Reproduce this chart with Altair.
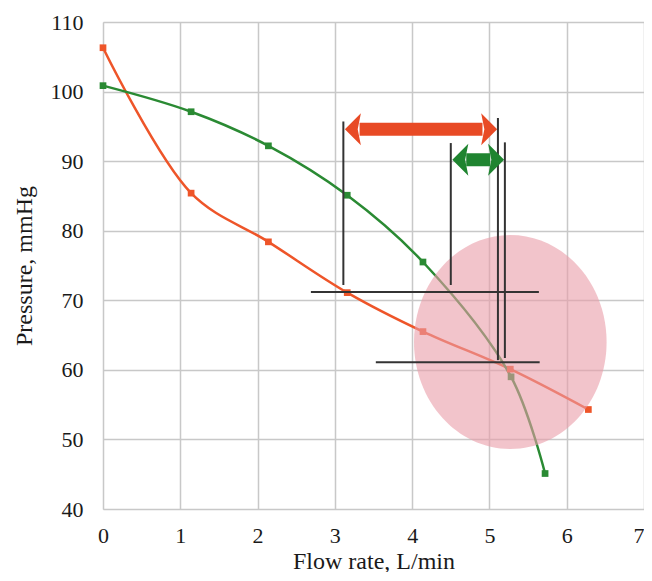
import altair as alt
import pandas as pd

# ---- data ----
flow_orange = [0, 1.14, 2.14, 3.16, 4.14, 5.27, 6.28]
press_orange = [106.3, 85.4, 78.4, 71.1, 65.5, 60.1, 54.3]
flow_green = [0, 1.14, 2.14, 3.16, 4.14, 5.28, 5.72]
press_green = [100.85, 97.1, 92.2, 85.1, 75.5, 59.0, 45.1]

x_ticks = [0, 1, 2, 3, 4, 5, 6, 7]
y_ticks = [40, 50, 60, 70, 80, 90, 100, 110]

# black guide segments
seg_x = [2.69, 3.53, 3.11, 4.50, 5.11, 5.20]
seg_x2 = [5.64, 5.65, 3.11, 4.50, 5.11, 5.20]
seg_y = [71.2, 61.1, 72.2, 72.2, 61.4, 61.7]
seg_y2 = [71.2, 61.1, 95.7, 92.6, 96.2, 92.7]

# ellipse centre
ell_x = [5.27]
ell_y = [64.0]

# double arrows: tips, shaft ends, level
arrow_names = ["orange", "green"]
arrow_left = [3.13, 4.52]
arrow_right = [5.10, 5.19]
shaft_left = [3.32, 4.70]
shaft_right = [4.91, 5.01]
arrow_y = [94.6, 90.2]

ORANGE = "#EE5529"
GREEN = "#2A8A33"
ORANGE_ARROW = "#E84A25"
GREEN_ARROW = "#1F8430"

FONT = "Liberation Serif"

df = pd.DataFrame({
    "flow": flow_orange + flow_green,
    "pressure": press_orange + press_green,
    "series": ["orange"] * len(flow_orange) + ["green"] * len(flow_green),
})
segs = pd.DataFrame({"x": seg_x, "x2": seg_x2, "y": seg_y, "y2": seg_y2})
ell = pd.DataFrame({"x": ell_x, "y": ell_y})
arr = pd.DataFrame({"name": arrow_names, "xl": arrow_left, "xr": arrow_right,
                    "sl": shaft_left, "sr": shaft_right, "y": arrow_y})

xscale = alt.Scale(domain=[0, 7], nice=False)
yscale = alt.Scale(domain=[40, 110], nice=False)
xaxis = alt.Axis(values=x_ticks, format="d", title="Flow rate, L/min", labelFontSize=22, titleFontSize=24,
                 labelPadding=16, titlePadding=3, ticks=False, domain=False, labelFlush=False,
                 labelAlign=alt.ExprRef(expr="datum.value == 7 ? 'right' : 'center'"),
                 gridColor="#c8c8c8", gridWidth=1.5, labelFont=FONT, titleFont=FONT,
                 labelColor="#1a1a1a", titleColor="#1a1a1a", titleFontWeight="normal")
yaxis = alt.Axis(values=y_ticks, format="d", title="Pressure, mmHg", labelFontSize=22, titleFontSize=24,
                 labelPadding=20, titlePadding=14, ticks=False, domain=False, labelFlush=False,
                 gridColor="#c8c8c8", gridWidth=1.5, labelFont=FONT, titleFont=FONT,
                 labelColor="#1a1a1a", titleColor="#1a1a1a", titleFontWeight="normal")

color_scale = alt.Scale(domain=["orange", "green"], range=[ORANGE, GREEN])

base = alt.Chart(df).encode(
    x=alt.X("flow:Q", scale=xscale, axis=xaxis),
    y=alt.Y("pressure:Q", scale=yscale, axis=yaxis),
    color=alt.Color("series:N", scale=color_scale, legend=None),
    detail="series:N",
)
lines = base.mark_line(interpolate="catmull-rom", strokeWidth=2.5)
points = base.mark_square(size=45, opacity=1)

ellipse = alt.Chart(ell).mark_point(
    shape="M -0.9 0 A 0.9 1 0 1 0 0.9 0 A 0.9 1 0 1 0 -0.9 0 Z",
    filled=True, size=45796, color="rgb(233,156,168)", opacity=0.6, strokeWidth=0,
).encode(x=alt.X("x:Q", scale=xscale), y=alt.Y("y:Q", scale=yscale))

guides = alt.Chart(segs).mark_rule(color="#333333", strokeWidth=2).encode(
    x=alt.X("x:Q", scale=xscale), x2="x2:Q",
    y=alt.Y("y:Q", scale=yscale), y2="y2:Q",
)

arrow_color = alt.Color("name:N", scale=alt.Scale(domain=["orange", "green"],
                                                   range=[ORANGE_ARROW, GREEN_ARROW]), legend=None)
shaft = alt.Chart(arr).mark_rule(strokeWidth=13, strokeCap="butt").encode(
    x=alt.X("sl:Q", scale=xscale), x2="sr:Q",
    y=alt.Y("y:Q", scale=yscale), color=arrow_color,
)
head_r = alt.Chart(arr).mark_point(
    shape="M 0 0 L -1 -1 L -0.8 0 L -1 1 Z", filled=True, size=1024, opacity=1, strokeWidth=0,
).encode(x=alt.X("xr:Q", scale=xscale), y=alt.Y("y:Q", scale=yscale), color=arrow_color)
head_l = alt.Chart(arr).mark_point(
    shape="M 0 0 L 1 -1 L 0.8 0 L 1 1 Z", filled=True, size=1024, opacity=1, strokeWidth=0,
).encode(x=alt.X("xl:Q", scale=xscale), y=alt.Y("y:Q", scale=yscale), color=arrow_color)

chart = alt.layer(lines, points, ellipse, guides, shaft, head_l, head_r).resolve_scale(
    color="independent"
).properties(
    width=541, height=487,
    autosize=alt.AutoSizeParams(type="none"),
    padding={"left": 95, "top": 14, "right": 0, "bottom": 63},
).configure_view(stroke="#bdbdbd", strokeWidth=1.5).configure(
    background="white", font=FONT
).configure_axis(labelFont=FONT, titleFont=FONT)

chart.save("out.html", embed_options={"renderer": "svg", "actions": False})
